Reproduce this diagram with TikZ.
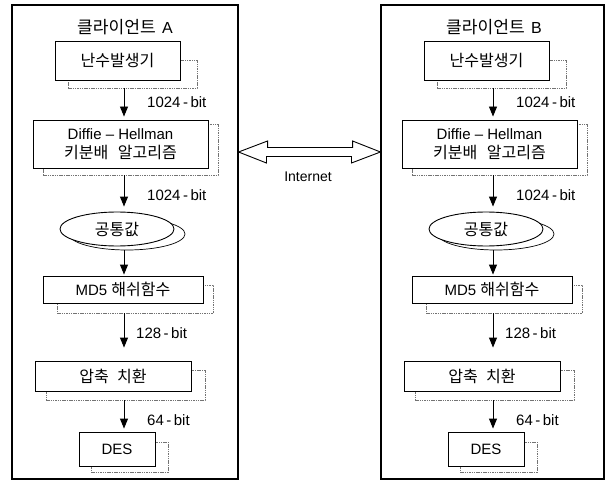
\documentclass[tikz,border=0pt]{standalone}
\usepackage{fontspec}
\setmainfont{Liberation Sans}
\newfontfamily\kr[Scale=1.07]{Noto Sans CJK KR}
\usetikzlibrary{arrows.meta,shapes.geometric}
\tikzset{
  panel/.style={draw, line width=1.1pt, inner sep=0pt},
  procbox/.style={draw, line width=0.9pt, fill=white, inner sep=0pt, align=center,
    font=\fontsize{15}{19}\selectfont},
  procoval/.style={procbox, ellipse},
  shadowbox/.style={draw=black!55, line width=0.5pt, dash pattern=on 1.5pt off 0.8pt, inner sep=0pt},
  shadowoval/.style={shadowbox, draw=black, dash pattern=, line width=0.7pt, ellipse},
  flow/.style={line width=0.9pt, -{Triangle[length=10pt,width=8pt]}},
  bitlabel/.style={anchor=west, font=\fontsize{15}{18}\selectfont, inner sep=0pt},
  titlelabel/.style={font=\fontsize{16}{18}\selectfont, inner sep=0pt},
  netarrow/.style={draw, line width=0.9pt, line join=miter},
}
\newcommand\clientpanel[3]{%
  \begin{scope}[xshift=#1]
    \node[titlelabel] (#2t) at (125,27) {{\kr 클라이언트}\hspace{0.4em}#3};
    \coordinate (#2x) at (124,27);
    % random number generator
    \node[shadowbox, minimum width=129pt, minimum height=28pt] (#2s1) at (132.5,74) {};
    \node[procbox, minimum width=125pt, minimum height=39pt] (#2n1) at (117.5,60.5) {\kr 난수발생기};
    % Diffie-Hellman
    \node[shadowbox, minimum width=175pt, minimum height=51pt] (#2s2) at (130.5,149.5) {};
    \node[procbox, minimum width=175pt, minimum height=48pt] (#2n2) at (120.5,144)
      {Diffie -- Hellman\\{\kr 키분배\hspace{0.6em}알고리즘}};
    % common value
    \node[shadowoval, minimum width=116pt, minimum height=32pt] (#2s3) at (127,234) {};
    \node[procoval, minimum width=114pt, minimum height=34pt] (#2n3) at (117,229) {\kr 공통값};
    % MD5
    \node[shadowbox, minimum width=156pt, minimum height=28pt] (#2s4) at (135,299) {};
    \node[procbox, minimum width=160pt, minimum height=27pt] (#2n4) at (123,289.5) {MD5 {\kr 해쉬함수}};
    % compression permutation
    \node[shadowbox, minimum width=159pt, minimum height=30pt] (#2s5) at (125.5,385) {};
    \node[procbox, minimum width=156pt, minimum height=30pt] (#2n5) at (113,376) {\kr 압축\hspace{0.5em}치환};
    % DES
    \node[shadowbox, minimum width=77pt, minimum height=30pt] (#2s6) at (129.5,457) {};
    \node[procbox, minimum width=76pt, minimum height=34pt] (#2n6) at (117,449) {DES};
    % flow arrows
    \draw[flow, shorten >=3pt] (#2s1.south -| #2x) -- (#2n2.north -| #2x);
    \draw[flow, shorten >=5pt] (#2s2.south -| #2x) -- (#2n3.north -| #2x);
    \draw[flow, shorten >=1pt] (#2s3.south -| #2x) -- (#2n4.north -| #2x);
    \draw[flow, shorten >=13pt] (#2s4.south -| #2x) -- (#2n5.north -| #2x);
    \draw[flow, shorten >=3pt] (#2s5.south -| #2x) -- (#2n6.north -| #2x);
    % bit labels
    \node[bitlabel] (#2b1) at (147,102) {1024\,-\,bit};
    \node[bitlabel] (#2b2) at (147,195) {1024\,-\,bit};
    \node[bitlabel] (#2b3) at (136,333) {128\,-\,bit};
    \node[bitlabel] (#2b4) at (147,420) {64\,-\,bit};
  \end{scope}}
\begin{document}
\begin{tikzpicture}[x=1pt,y=-1pt]
  \useasboundingbox (0,0) rectangle (607,481);
  \node[panel, minimum width=226pt, minimum height=474pt] (pA) at (125,242) {};
  \node[panel, minimum width=223pt, minimum height=474pt] (pB) at (492.5,242) {};
  \clientpanel{0pt}{A}{A}
  \clientpanel{369pt}{B}{B}
  % Internet double arrow
  \coordinate (netL) at (pA.east |- 0,152);
  \coordinate (netR) at (pB.west |- 0,152);
  \path[netarrow] (netL) -- ++(29,-11) -- ++(0,6.5) -- ++(85,0) -- ++(0,-6.5)
    -- (netR) -- ++(-29,11) -- ++(0,-6.5) -- ++(-85,0) -- ++(0,6.5) -- cycle;
  \node[font=\fontsize{14}{16}\selectfont, inner sep=0pt] (net) at (308,177) {Internet};
\end{tikzpicture}
\end{document}
